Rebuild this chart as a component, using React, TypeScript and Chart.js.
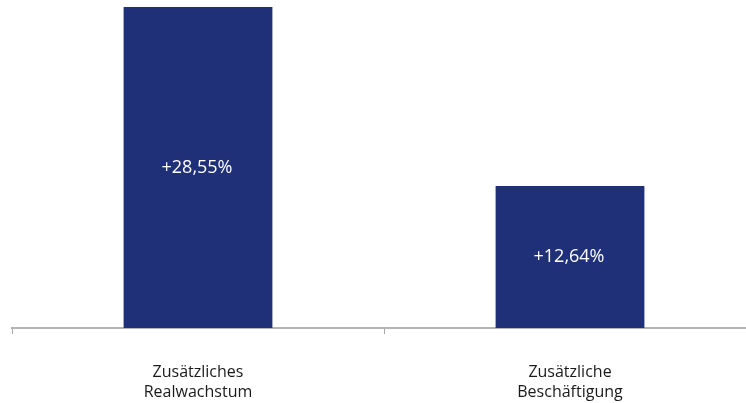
import React, { useEffect, useRef } from "react";
import { Chart, registerables } from "chart.js";

Chart.register(...registerables);

const categories: string[][] = [
  ["Zusätzliches", "Realwachstum"],
  ["Zusätzliche", "Beschäftigung"],
];
const values: number[] = [28.55, 12.64];
const valueLabels: string[] = ["+28,55%", "+12,64%"];

const barColor = "#1f2f78";

const valueLabelPlugin = {
  id: "valueLabels",
  afterDatasetsDraw(chart: any) {
    const ctx = chart.ctx;
    const meta = chart.getDatasetMeta(0);
    ctx.save();
    ctx.fillStyle = "#ffffff";
    ctx.font = "18px 'Open Sans'";
    ctx.textAlign = "center";
    ctx.textBaseline = "middle";
    meta.data.forEach((bar: any, i: number) => {
      const midY = (bar.y + bar.base) / 2;
      ctx.fillText(valueLabels[i], bar.x - 1, midY);
    });
    ctx.restore();
  },
};

export default function App() {
  const ref = useRef<HTMLCanvasElement | null>(null);
  useEffect(() => {
    if (!ref.current) return;
    const chart = new Chart(ref.current, {
      type: "bar",
      data: {
        labels: categories,
        datasets: [
          {
            data: values,
            backgroundColor: barColor,
            borderWidth: 0,
            categoryPercentage: 1,
            barPercentage: 0.4,
          },
        ],
      },
      options: {
        animation: false,
        responsive: true,
        maintainAspectRatio: false,
        layout: { padding: { left: 12, right: 4, top: 7, bottom: -27 } },
        plugins: {
          legend: { display: false },
          tooltip: { enabled: false },
        },
        scales: {
          x: {
            offset: true,
            grid: {
              offset: true,
              drawOnChartArea: false,
              drawTicks: true,
              tickLength: 6,
              color: "#a8a8a8",
              lineWidth: 1,
            },
            border: { display: true, color: "#b4b4b4", width: 2 },
            ticks: {
              color: "#1a1a1a",
              font: { family: "'Open Sans'", size: 16, lineHeight: 1.25 },
              padding: 28,
              maxRotation: 0,
            },
          },
          y: {
            display: false,
            min: 0,
            max: 28.55,
          },
        },
      },
      plugins: [valueLabelPlugin],
    });
    return () => chart.destroy();
  }, []);
  return (
    <div
      style={{
        position: "fixed",
        left: 0,
        top: 0,
        width: 760,
        height: 403,
        background: "#ffffff",
      }}
    >
      <canvas ref={ref} />
    </div>
  );
}
